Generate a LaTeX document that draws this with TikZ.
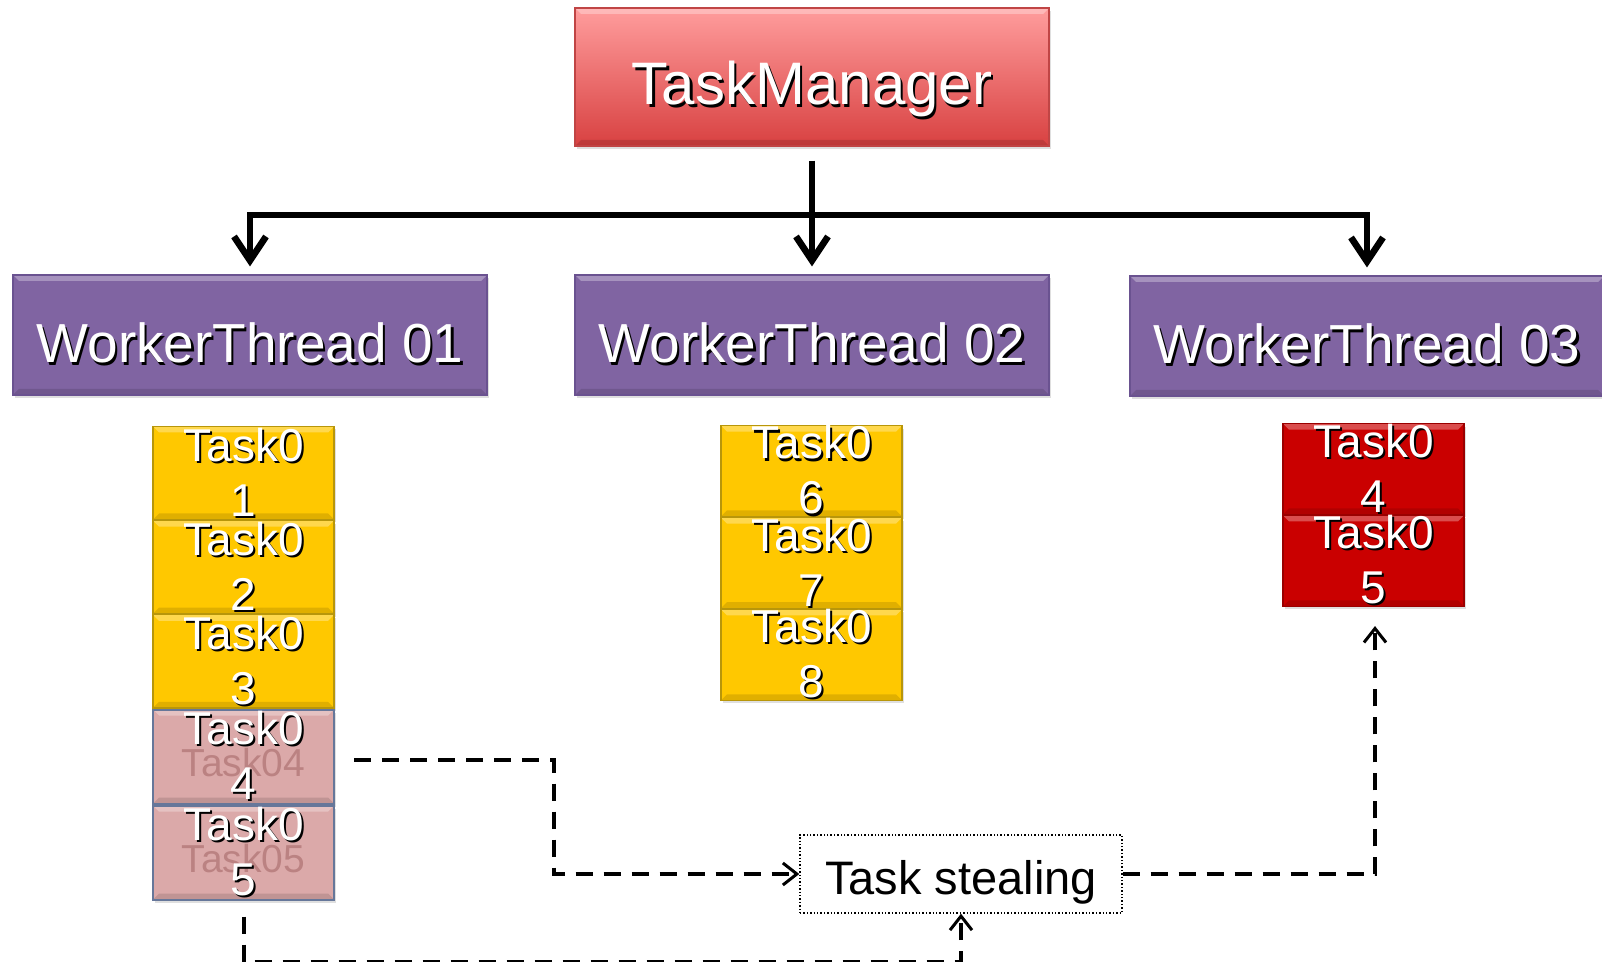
\documentclass[tikz,border=0pt]{standalone}
\usepackage{fontspec}
\setmainfont{Liberation Sans}
\usetikzlibrary{
    arrows.meta,
    positioning,
    shadows
}

\definecolor{tmtop}{HTML}{FF9D9D}
\definecolor{tmbot}{HTML}{D84141}
\definecolor{tmedge}{HTML}{C04545}
\definecolor{wtpurple}{HTML}{8064A2}
\definecolor{wtedge}{HTML}{6A5290}
\definecolor{taskgold}{HTML}{FFC800}
\definecolor{goldedge}{HTML}{B8960A}
\definecolor{taskred}{HTML}{CA0000}
\definecolor{rededge}{HTML}{9A0000}
\definecolor{taskpink}{HTML}{DBA9A9}
\definecolor{pinkedge}{HTML}{66779A}
\definecolor{ghostpink}{HTML}{BB8282}

% white lettering with a dark drop shadow
\newcommand{\shtxt}[1]{\rlap{\kern1.1pt\raisebox{-1.1pt}{\color{black}#1}}{\color{white}#1}}

% light top edge, dark bottom edge
\newcommand{\boxbevel}{%
  \fill[white,opacity=0.3] (path picture bounding box.north west) -- (path picture bounding box.north east)
    -- ([xshift=-3pt,yshift=-3pt]path picture bounding box.north east)
    -- ([xshift=3pt,yshift=-3pt]path picture bounding box.north west) -- cycle;
  \fill[black,opacity=0.12] (path picture bounding box.south west) -- (path picture bounding box.south east)
    -- ([xshift=-3pt,yshift=3pt]path picture bounding box.south east)
    -- ([xshift=3pt,yshift=3pt]path picture bounding box.south west) -- cycle;
}

% faded copy of the old label, under the new one
\newcommand{\ghostlabel}[1]{%
  \pgftext[at=\pgfpointadd{\pgfpointanchor{path picture bounding box}{center}}{\pgfpoint{0pt}{-3pt}}]
    {\fontsize{19.5pt}{22pt}\selectfont\color{ghostpink}#1}%
}

\tikzset{
  box/.style={rectangle, inner sep=0pt, line width=0.6pt,
    drop shadow={opacity=0.25, shadow xshift=1.2pt, shadow yshift=-1.5pt},
    path picture={\boxbevel}},
  manager/.style={box, top color=tmtop, bottom color=tmbot, draw=tmedge,
    minimum width=237pt, minimum height=69pt, text height=28pt, text depth=0pt,
    font=\fontsize{30pt}{36pt}\selectfont},
  worker/.style={box, fill=wtpurple, draw=wtedge,
    minimum width=237pt, minimum height=60pt, text height=28pt, text depth=0pt,
    font=\fontsize{27.5pt}{33pt}\selectfont},
  task/.style={box, minimum width=90.5pt, align=center,
    font=\fontsize{23pt}{27.5pt}\selectfont},
  goldtask/.style={task, fill=taskgold, draw=goldedge},
  redtask/.style={task, fill=taskred, draw=rededge},
  pinktask/.style={task, fill=taskpink, draw=pinkedge, line width=1pt,
    path picture={\boxbevel\ghostlabel{#1}}},
  feed/.style={line width=3.3pt, -{Straight Barb[length=12pt,width=16pt]}},
  steal/.style={line width=2pt, dash pattern=on 8.5pt off 5.5pt,
    -{Straight Barb[length=7pt,width=11pt,line width=1.5pt]}},
  note/.style={draw, densely dotted, line width=0.7pt, inner sep=0pt,
    minimum width=161pt, minimum height=39pt, text height=20pt, text depth=0pt,
    font=\fontsize{23.5pt}{28pt}\selectfont}
}

\begin{document}
\begin{tikzpicture}[x=0.5pt,y=-0.5pt]

\useasboundingbox (0,0) rectangle (1602,962);

% Manager and its worker threads
\node[manager] (tm) at (812,77) {\shtxt{TaskManager}};
\node[worker] (wt1) at (250,335) {\shtxt{WorkerThread 01}};
\node[worker] (wt2) at (812,335) {\shtxt{WorkerThread 02}};
\node[worker] (wt3) at (1367,336) {\shtxt{WorkerThread 03}};

\coordinate (split) at (812,215);
\draw[feed] ([yshift=-7pt]tm.south) -- ([yshift=4pt]wt2.north);
\draw[feed] (split) -| ([yshift=4pt]wt1.north);
\draw[feed] (split) -| ([yshift=4pt]wt3.north);

% Queue of thread 01
\node[goldtask, minimum height=46.5pt] (a1) at (243.5,473) {\shtxt{Task0}\\\shtxt{1}};
\node[goldtask, minimum height=46.5pt, below=0pt of a1] (a2) {\shtxt{Task0}\\\shtxt{2}};
\node[goldtask, minimum height=46.5pt, below=0pt of a2] (a3) {\shtxt{Task0}\\\shtxt{3}};
\node[pinktask=Task04, minimum height=47pt, below=0pt of a3] (a4) {\shtxt{Task0}\\\shtxt{4}};
\node[pinktask=Task05, minimum height=47pt, below=0pt of a4] (a5) {\shtxt{Task0}\\\shtxt{5}};

% Queue of thread 02
\node[goldtask, minimum height=45pt] (b1) at (811.5,471) {\shtxt{Task0}\\\shtxt{6}};
\node[goldtask, minimum height=45pt, below=0pt of b1] (b2) {\shtxt{Task0}\\\shtxt{7}};
\node[goldtask, minimum height=45pt, below=0pt of b2] (b3) {\shtxt{Task0}\\\shtxt{8}};

% Queue of thread 03
\node[redtask, minimum height=43.5pt] (c1) at (1373.5,469) {\shtxt{Task0}\\\shtxt{4}};
\node[redtask, minimum height=43.5pt, below=0pt of c1] (c2) {\shtxt{Task0}\\\shtxt{5}};

% Stealing
\node[note] (ts) at (961,874) {Task stealing};

\draw[steal] ([xshift=9.5pt,yshift=-1.5pt]a4.east) -- ++(200,0) |- (ts.west);
\draw[steal] ([yshift=-8pt]a5.south) -- ++(0,45) -| (ts.south);
\draw[steal] (ts.east) -| ([xshift=0.75pt,yshift=-9.5pt]c2.south);

\end{tikzpicture}
\end{document}
